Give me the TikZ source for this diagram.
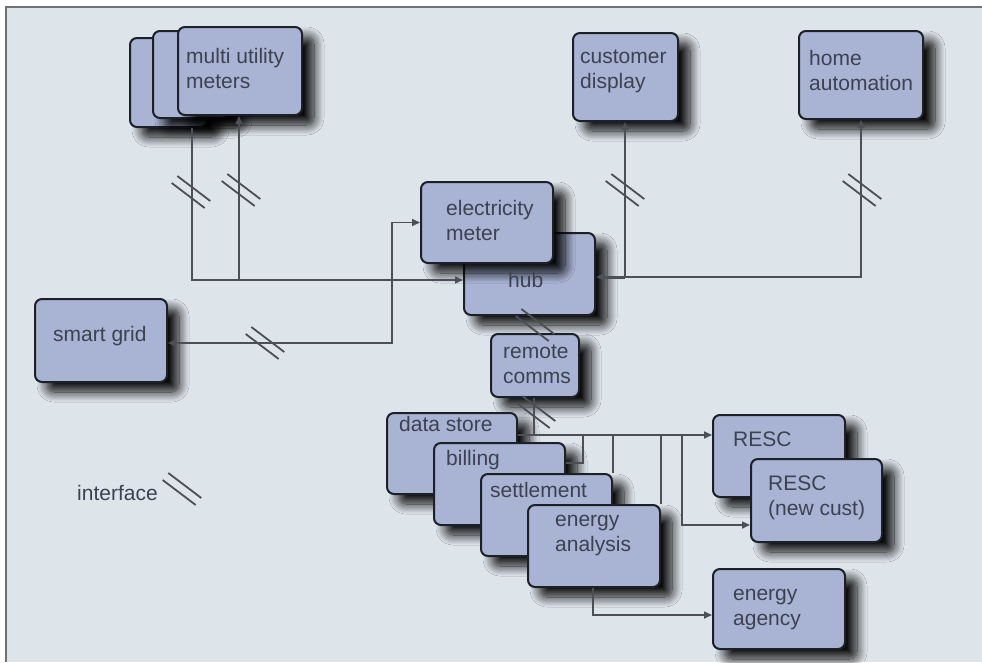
\documentclass[tikz,border=0pt]{standalone}
\usepackage{fontspec}
\setmainfont{Liberation Sans}
\usetikzlibrary{arrows.meta,shadows.blur}

\definecolor{boxfill}{HTML}{A9B3D3}
\definecolor{boxline}{HTML}{1C2027}
\definecolor{txtc}{HTML}{3C4251}
\definecolor{linec}{HTML}{4C5056}
\definecolor{bgc}{HTML}{DDE4EA}
\definecolor{framec}{HTML}{6E7276}

\tikzset{
	unit/.style={draw=boxline, fill=boxfill, line width=2pt, rounded corners=7pt, inner sep=0pt,
		blur shadow={shadow xshift=12pt, shadow yshift=-10pt, shadow blur radius=10pt,
			shadow blur steps=12, shadow opacity=95}},
	txt/.style={anchor=base west, inner sep=0pt, align=left, text=txtc,
		font=\fontsize{21}{25}\selectfont},
	conn/.style={draw=linec, line width=1.6pt},
	ifcline/.style={draw=linec, line width=1.8pt},
	iface/.pic={
		\draw[ifcline] (-19.3,-9) -- (13.7,16);
		\draw[ifcline] (-13.7,-16) -- (19.3,9);
	},
	>={Triangle[length=8pt,width=7pt]}
}

\begin{document}
\begin{tikzpicture}[x=1pt, y=-1pt]
		% page with frame on top and left
		\useasboundingbox (0,0) rectangle (982,662);
		\fill[white] (0,0) rectangle (982,662);
		\fill[bgc] (6,6.5) rectangle (982,662);
		\draw[framec, line width=2pt] (6,662) -- (6,6.5) -- (982,6.5);

		% boxes, back ones first
		\node[unit, minimum width=77pt, minimum height=89pt] (mum3) at (168.5,82.5) {};
		\node[unit, minimum width=77pt, minimum height=87pt] (mum2) at (191.5,74.5) {};
		\node[unit, minimum width=124pt, minimum height=88pt] (mum1) at (240,71) {};
		\node[unit, minimum width=105pt, minimum height=88pt] (cd) at (625.5,77) {};
		\node[unit, minimum width=124pt, minimum height=88pt] (ha) at (861,75) {};
		\node[unit, minimum width=131pt, minimum height=82pt] (hub) at (529.5,274) {};
		\node[unit, minimum width=132pt, minimum height=81pt] (em) at (487,222.5) {};
		\node[unit, minimum width=132pt, minimum height=83pt] (sg) at (101,340.5) {};
		\node[unit, minimum width=88pt, minimum height=63pt] (rc) at (535,365.5) {};
		\node[unit, minimum width=130pt, minimum height=81pt] (ds) at (452,453.5) {};
		\node[unit, minimum width=131pt, minimum height=82pt] (bill) at (499.5,484) {};
		\node[unit, minimum width=131pt, minimum height=82pt] (set) at (546.5,515) {};
		\node[unit, minimum width=132pt, minimum height=82pt] (ea) at (594,546) {};
		\node[unit, minimum width=132pt, minimum height=82pt] (resc) at (779,456) {};
		\node[unit, minimum width=131pt, minimum height=83pt] (rn) at (816.5,500.5) {};
		\node[unit, minimum width=132pt, minimum height=80pt] (eag) at (779,609) {};

		% texts (base = last line)
		\node[txt] (mum-t) at (186,88) {multi utility\\meters};
		\node[txt] (cd-t) at (580,88) {customer\\display};
		\node[txt] (ha-t) at (809,90) {home\\automation};
		\node[txt] (em-t) at (446,240) {electricity\\meter};
		\node[txt] (hub-t) at (508,287) {hub};
		\node[txt] (sg-t) at (53,341) {smart grid};
		\node[txt] (rc-t) at (503,383) {remote\\comms};
		\node[txt] (ds-t) at (399,431) {data store};
		\node[txt] (bill-t) at (446,465) {billing};
		\node[txt] (set-t) at (490,497) {settlement};
		\node[txt] (ea-t) at (555,551) {energy\\analysis};
		\node[txt] (resc-t) at (733,446) {RESC};
		\node[txt] (rn-t) at (768,515) {RESC\\(new cust)};
		\node[txt] (eag-t) at (733,625) {energy\\agency};
		\node[txt] (leg-t) at (77,500) {interface};

		% junctions
		\coordinate (j1) at (192,280);
		\coordinate (j2) at (239,280);
		\coordinate (j3) at (392,343);
		\coordinate (j4) at (625,277);
		\coordinate (j5) at (534,435);
		\coordinate (t1) at (583,435);
		\coordinate (t1b) at (583,463);
		\coordinate (t2) at (613,435);
		\coordinate (t3) at (661,435);
		\coordinate (t4) at (682,435);
		\coordinate (t4b) at (682,525);
		\coordinate (t5) at (593,615);

		% connectors
		\draw[conn, ->] (mum3.south -| j1) -- (j1) -- (j1 -| hub.west);
		\draw[conn, ->] (j2) -- (j2 |- mum1.south);
		\draw[conn, <->] (sg.east |- j3) -- (j3) |- (em.west);
		\draw[conn, ->] (j4) -- (j4 |- cd.south);
		\draw[conn, ->] (j4) -| (ha.south);
		\draw[conn, ->, line width=3pt] (j4) -- (j4 -| hub.east);
		\draw[conn] (rc.south -| j5) -- (j5);
		\draw[conn, ->] (ds.east |- j5) -- (j5 -| resc.west);
		\draw[conn] (t1) -- (t1b) -- (t1b -| bill.east);
		\draw[conn] (t2) -- (t2 |- set.north);
		\draw[conn] (t3) -- (t3 |- ea.north);
		\draw[conn, ->] (t4) -- (t4b) -- (t4b -| rn.west);
		\draw[conn, ->] (ea.south -| t5) -- (t5) -- (t5 -| eag.west);

		% interface marks
		\pic at (191,192) {iface};
		\pic at (241,190) {iface};
		\pic at (265,343) {iface};
		\pic at (625,190) {iface};
		\pic at (862,190) {iface};
		\pic at (535,325) {iface};
		\pic at (536,412) {iface};
		\pic at (182,489) {iface};
	\end{tikzpicture}
\end{document}
